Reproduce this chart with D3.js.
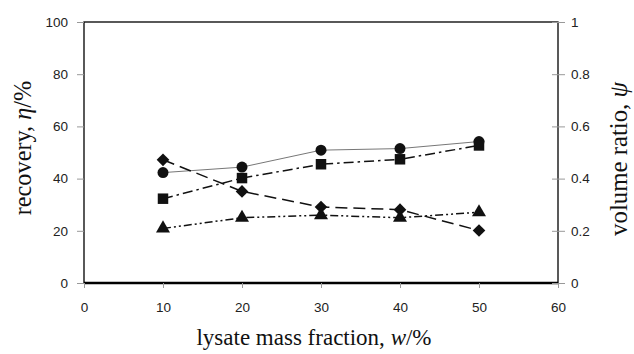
<!DOCTYPE html>
<html><head><meta charset="utf-8">
<script src="https://cdn.jsdelivr.net/npm/d3@7"></script>
<style>body{margin:0;background:#fff}</style>
</head><body>
<svg id="c" width="634" height="354"></svg>
<script>
const xValues = [10, 20, 30, 40, 50];
const circleSeries = [42.3, 44.4, 50.9, 51.5, 54.2];
const squareSeries = [32.3, 40.2, 45.5, 47.4, 52.7];
const diamondSeries = [47.2, 35.1, 29.1, 28.1, 20.1];
const triangleSeries = [20.9, 25.0, 26.0, 25.0, 27.1];
const xTicks = [0, 10, 20, 30, 40, 50, 60];
const yLeftTicks = [0, 20, 40, 60, 80, 100];
const yRightTicks = [0, 0.2, 0.4, 0.6, 0.8, 1];

const svg = d3.select("#c");
const L = 84, R = 558, T = 22, B = 283;
const x = d3.scaleLinear().domain([0, 60]).range([L, R]);
const y = d3.scaleLinear().domain([0, 100]).range([B, T]);
const y2 = d3.scaleLinear().domain([0, 1]).range([B, T]);

// frame
svg.append("rect").attr("x", L).attr("y", T).attr("width", R - L).attr("height", B - T)
  .attr("fill", "none").attr("stroke", "#000").attr("stroke-width", 1.3);
svg.append("line").attr("x1", L).attr("x2", R).attr("y1", B).attr("y2", B)
  .attr("stroke", "#000").attr("stroke-width", 2.4);

const tickFont = "Liberation Sans, Arial, sans-serif";

// axes
const gx = svg.append("g").attr("transform", `translate(0,${B})`)
  .call(d3.axisBottom(x).tickValues(xTicks).tickSize(5).tickPadding(14).tickFormat(d3.format("d")));
const gl = svg.append("g").attr("transform", `translate(${L},0)`)
  .call(d3.axisLeft(y).tickValues(yLeftTicks).tickSize(7).tickPadding(9).tickFormat(d3.format("d")));
const gr = svg.append("g").attr("transform", `translate(${R},0)`)
  .call(d3.axisRight(y2).tickValues(yRightTicks).tickSize(7).tickPadding(6).tickFormat(d => d === 0 ? "0" : d === 1 ? "1" : d3.format(".1f")(d)));
gr.selectAll(".tick line").attr("x1", -6);
[gx, gl, gr].forEach(g => {
  g.select(".domain").remove();
  g.selectAll(".tick line").attr("stroke", "#999").attr("stroke-width", 1);
  g.selectAll(".tick text").attr("font-family", tickFont).attr("font-size", 13.5).attr("fill", "#222");
});

// titles
const serif = "Liberation Serif, Times New Roman, serif";
const xt = svg.append("text").attr("x", (L + R) / 2 - 7).attr("y", 345).attr("text-anchor", "middle")
  .attr("font-family", serif).attr("font-size", 23).attr("fill", "#111");
xt.append("tspan").text("lysate mass fraction, ");
xt.append("tspan").attr("font-style", "italic").text("w");
xt.append("tspan").text("/%");

const lt = svg.append("text").attr("transform", "translate(31,148) rotate(-90)").attr("text-anchor", "middle")
  .attr("font-family", serif).attr("font-size", 24.3).attr("fill", "#111");
lt.append("tspan").text("recovery, ");
lt.append("tspan").attr("font-style", "italic").text("η");
lt.append("tspan").text("/%");

const rt = svg.append("text").attr("transform", "translate(627,159) rotate(-90)").attr("text-anchor", "middle")
  .attr("font-family", serif).attr("font-size", 24.8).attr("fill", "#111");
rt.append("tspan").text("volume ratio, ");
rt.append("tspan").attr("font-style", "italic").text("ψ");

// diamond: square rotated 45deg
const symbolRhombus = {
  draw(ctx, size) {
    const r = Math.sqrt(size / 2);
    ctx.moveTo(0, -r); ctx.lineTo(r, 0); ctx.lineTo(0, r); ctx.lineTo(-r, 0); ctx.closePath();
  }
};

// series
const series = [
  {vals: circleSeries, dash: null, color: "#777", w: 1, sym: d3.symbolCircle, size: 95},
  {vals: squareSeries, dash: "10,4,2.5,4", color: "#111", w: 1.5, sym: d3.symbolSquare, size: 110},
  {vals: diamondSeries, dash: "12,6", color: "#111", w: 1.5, sym: symbolRhombus, size: 80},
  {vals: triangleSeries, dash: "8,3,2,3,2,3", color: "#111", w: 1.5, sym: d3.symbolTriangle, size: 85}
];
const line = d3.line().x((d, i) => x(xValues[i])).y(d => y(d));
series.forEach(s => {
  svg.append("path").datum(s.vals).attr("d", line).attr("fill", "none")
    .attr("stroke", s.color).attr("stroke-width", s.w).attr("stroke-dasharray", s.dash);
});
series.forEach(s => {
  svg.append("g").selectAll("path").data(s.vals).join("path")
    .attr("transform", (d, i) => `translate(${x(xValues[i])},${y(d)})`)
    .attr("d", d3.symbol().type(s.sym).size(s.size)).attr("fill", "#111");
});
</script>
</body></html>
